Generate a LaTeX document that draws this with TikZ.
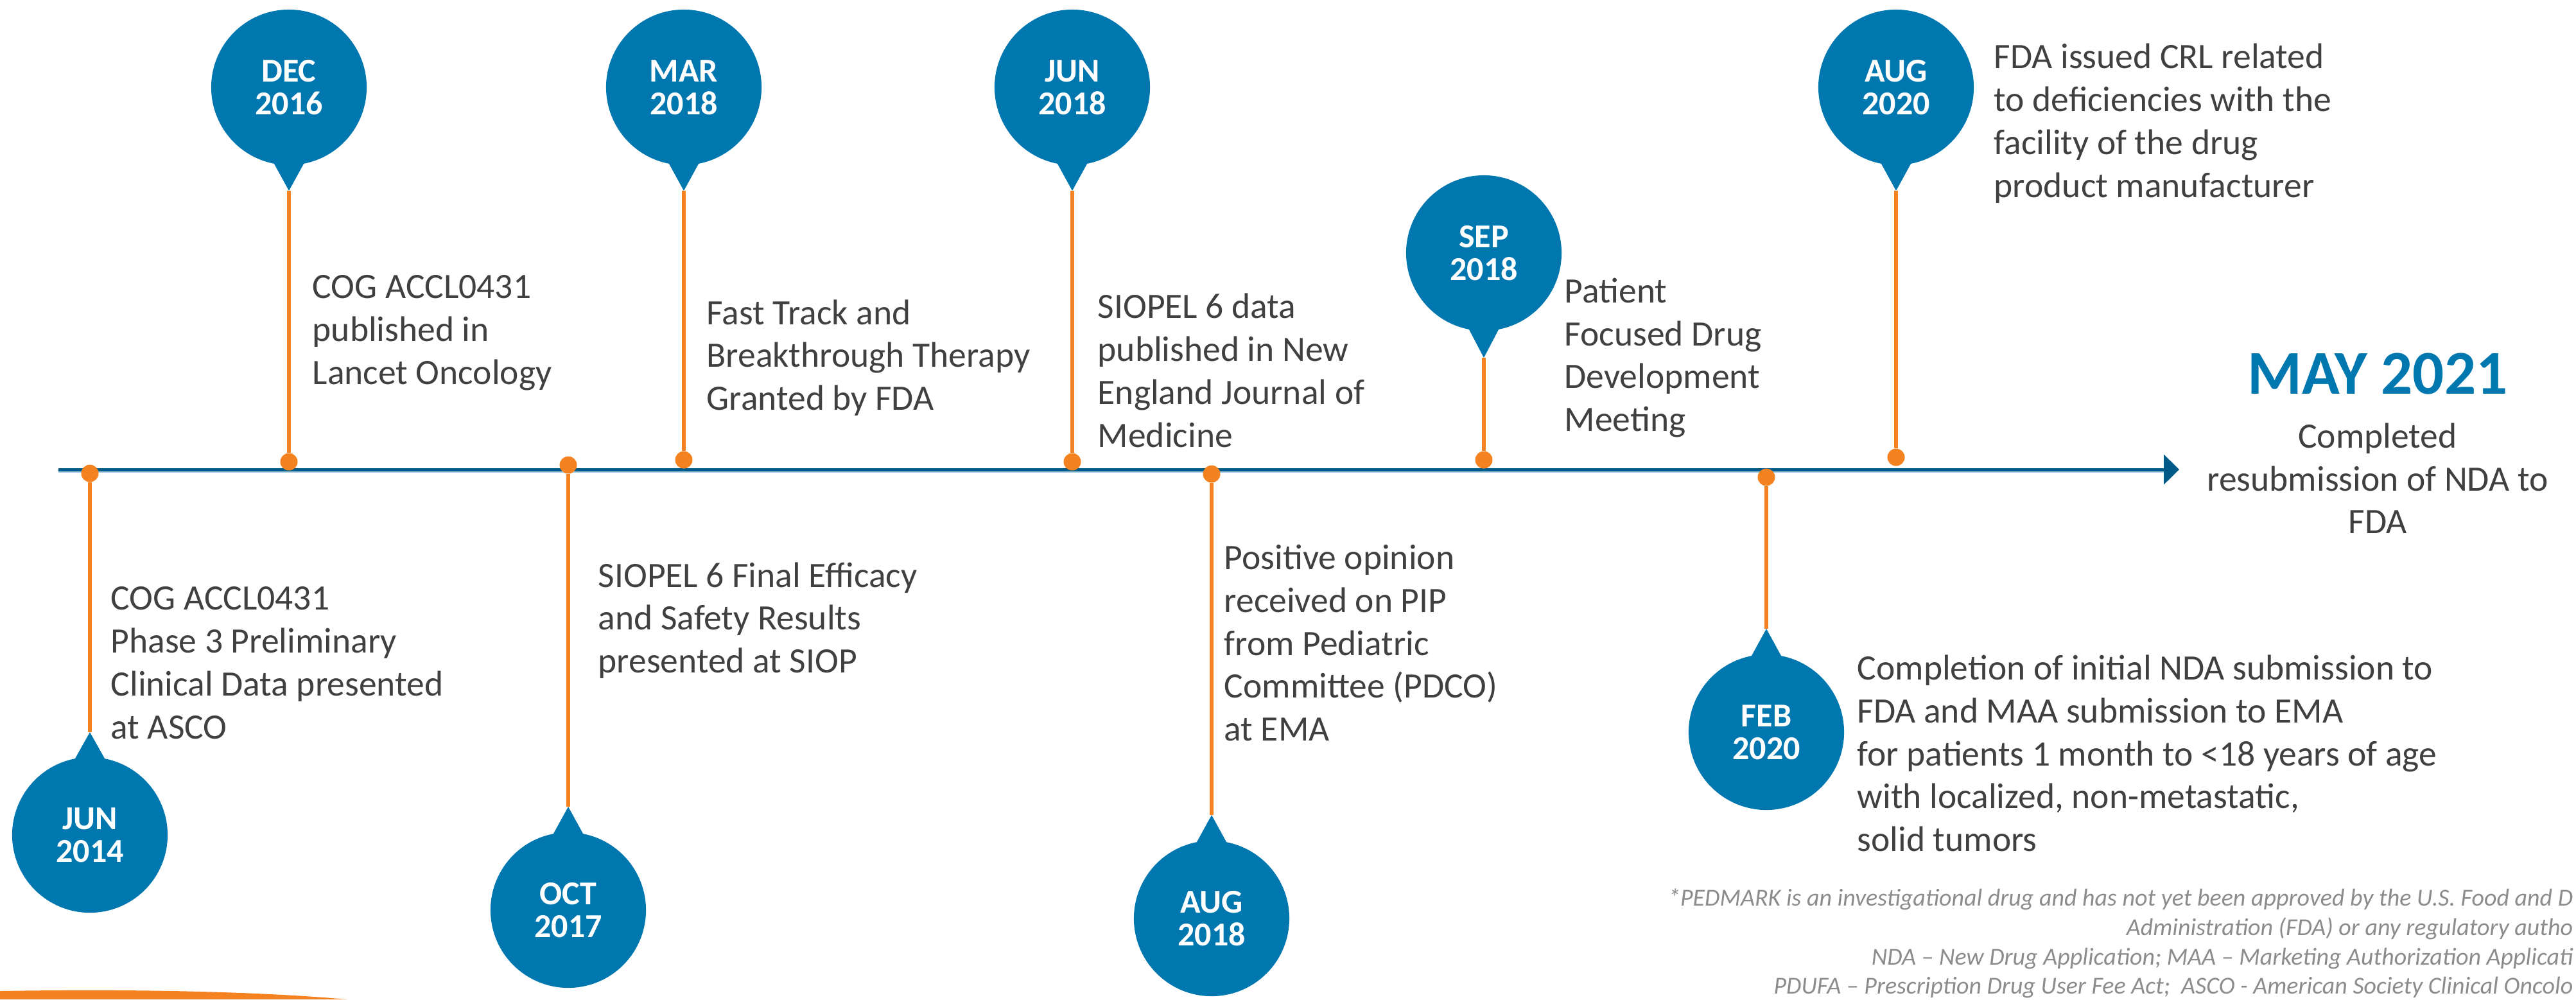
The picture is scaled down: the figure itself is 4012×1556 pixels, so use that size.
\documentclass[tikz,border=0pt]{standalone}
\usepackage{fontspec}
\setmainfont{Carlito}
\usetikzlibrary{arrows.meta}
\usetikzlibrary{positioning}
\usetikzlibrary{shapes.callouts}

\definecolor{bubbleblue}{RGB}{0,119,175}
\definecolor{axisblue}{RGB}{0,90,135}
\definecolor{axisshade}{RGB}{170,205,225}
\definecolor{stemorange}{RGB}{245,130,32}
\definecolor{textgray}{RGB}{64,64,64}
\definecolor{notegray}{RGB}{140,140,140}

\tikzset{
  bubble/.style={ellipse callout, fill=bubbleblue, text=white,
    minimum width=2.42cm, minimum height=2.42cm, inner sep=0pt,
    callout pointer arc=22, align=center,
    font=\fontsize{14.8}{14.5}\selectfont\bfseries},
  pindot/.style={circle, fill=stemorange, minimum size=0.27cm, inner sep=0pt},
  stemline/.style={draw=stemorange, line width=0.06cm},
  event/.style={text=textgray, align=left, inner sep=0pt,
    font=\fontsize{15.8}{19}\selectfont},
}

\begin{document}
\begin{tikzpicture}[x=0.01cm, y=-0.01cm]
  \useasboundingbox (0,0) rectangle (4012,1556);

  % time axis
  \coordinate (start) at (91,731);
  \coordinate (end) at (3394,731);
  \draw[axisshade, line width=0.02cm] (91,735) -- (3372,735);
  \draw[axisblue, line width=0.05cm, -{Triangle[length=0.24cm,width=0.46cm]}] (start) -- (end);

  % events above the axis
  \coordinate (dec16tip) at (450,297);
  \node[bubble, callout absolute pointer={(dec16tip)}] (dec16) at (450,136) {DEC\\2016};
  \node[pindot] (dec16dot) at (450,719) {};
  \draw[stemline] (dec16tip) -- (dec16dot);
  \node[event, anchor=west] (dec16txt) at (486,518) {COG ACCL0431\\published in\\Lancet Oncology};

  \coordinate (mar18tip) at (1065,297);
  \node[bubble, callout absolute pointer={(mar18tip)}] (mar18) at (1065,136) {MAR\\2018};
  \node[pindot] (mar18dot) at (1065,716) {};
  \draw[stemline] (mar18tip) -- (mar18dot);
  \node[event, anchor=west] (mar18txt) at (1100,557) {Fast Track and\\Breakthrough Therapy\\Granted by FDA};

  \coordinate (jun18tip) at (1670,297);
  \node[bubble, callout absolute pointer={(jun18tip)}] (jun18) at (1670,136) {JUN\\2018};
  \node[pindot] (jun18dot) at (1670,719) {};
  \draw[stemline] (jun18tip) -- (jun18dot);
  \node[event, anchor=west] (jun18txt) at (1709,577) {SIOPEL 6 data\\published in New\\England Journal of\\Medicine};

  \coordinate (sep18tip) at (2311,557);
  \node[bubble, callout absolute pointer={(sep18tip)}] (sep18) at (2311,394) {SEP\\2018};
  \node[pindot] (sep18dot) at (2311,716) {};
  \draw[stemline] (sep18tip) -- (sep18dot);
  \node[event, anchor=west] (sep18txt) at (2436,557) {Patient\\Focused Drug\\Development\\Meeting};

  \coordinate (aug20tip) at (2953,297);
  \node[bubble, callout absolute pointer={(aug20tip)}] (aug20) at (2953,136) {AUG\\2020};
  \node[pindot] (aug20dot) at (2953,712) {};
  \draw[stemline] (aug20tip) -- (aug20dot);
  \node[event, anchor=west] (aug20txt) at (3105,192) {FDA issued CRL related\\to deficiencies with the\\facility of the drug\\product manufacturer};

  % events below the axis
  \coordinate (jun14tip) at (140,1140);
  \node[bubble, callout absolute pointer={(jun14tip)}] (jun14) at (140,1300) {JUN\\2014};
  \node[pindot] (jun14dot) at (140,737) {};
  \draw[stemline] (jun14dot) -- (jun14tip);
  \node[event, anchor=west] (jun14txt) at (172,1032) {COG ACCL0431\\Phase 3 Preliminary\\Clinical Data presented\\at ASCO};

  \coordinate (oct17tip) at (885,1256);
  \node[bubble, callout absolute pointer={(oct17tip)}] (oct17) at (885,1417) {OCT\\2017};
  \node[pindot] (oct17dot) at (885,724) {};
  \draw[stemline] (oct17dot) -- (oct17tip);
  \node[event, anchor=west] (oct17txt) at (931,966) {SIOPEL 6 Final Efficacy\\and Safety Results\\presented at SIOP};

  \coordinate (aug18tip) at (1887,1269);
  \node[bubble, callout absolute pointer={(aug18tip)}] (aug18) at (1887,1430) {AUG\\2018};
  \node[pindot] (aug18dot) at (1887,738) {};
  \draw[stemline] (aug18dot) -- (aug18tip);
  \node[event, anchor=west] (aug18txt) at (1906,1001) {Positive opinion\\received on PIP\\from Pediatric\\Committee (PDCO)\\at EMA};

  \coordinate (feb20tip) at (2751,979);
  \node[bubble, callout absolute pointer={(feb20tip)}] (feb20) at (2751,1140) {FEB\\2020};
  \node[pindot] (feb20dot) at (2751,743) {};
  \draw[stemline] (feb20dot) -- (feb20tip);
  \node[event, anchor=west] (feb20txt) at (2892,1173) {Completion of initial NDA submission to\\FDA and MAA submission to EMA\\for patients 1 month to <18 years of age\\with localized, non-metastatic,\\solid tumors};

  % end of the axis
  \node[text=bubbleblue, inner sep=0pt, font=\fontsize{27.6}{33}\selectfont\bfseries] (may21) at (3703,582) {MAY 2021};
  \node[event, align=center, anchor=north, below=0.43cm of may21] (may21txt) {Completed\\resubmission of NDA to\\FDA};

  % footnote, as printed up to the right edge
  \node[text=notegray, align=right, inner sep=0pt, anchor=east,
    font=\fontsize{10.8}{12.95}\selectfont\itshape] (note) at (4008,1469)
    {*PEDMARK is an investigational drug and has not yet been approved by the U.S. Food and D\\
     Administration (FDA) or any regulatory autho\\
     NDA -- New Drug Application; MAA -- Marketing Authorization Applicati\\
     PDUFA -- Prescription Drug User Fee Act;\ \ ASCO - American Society Clinical Oncolo};

  % orange swoosh at the bottom left
  \fill[stemorange] (0,1556) -- (0,1543) .. controls (250,1539) and (430,1546) .. (540,1556) -- cycle;
\end{tikzpicture}
\end{document}
